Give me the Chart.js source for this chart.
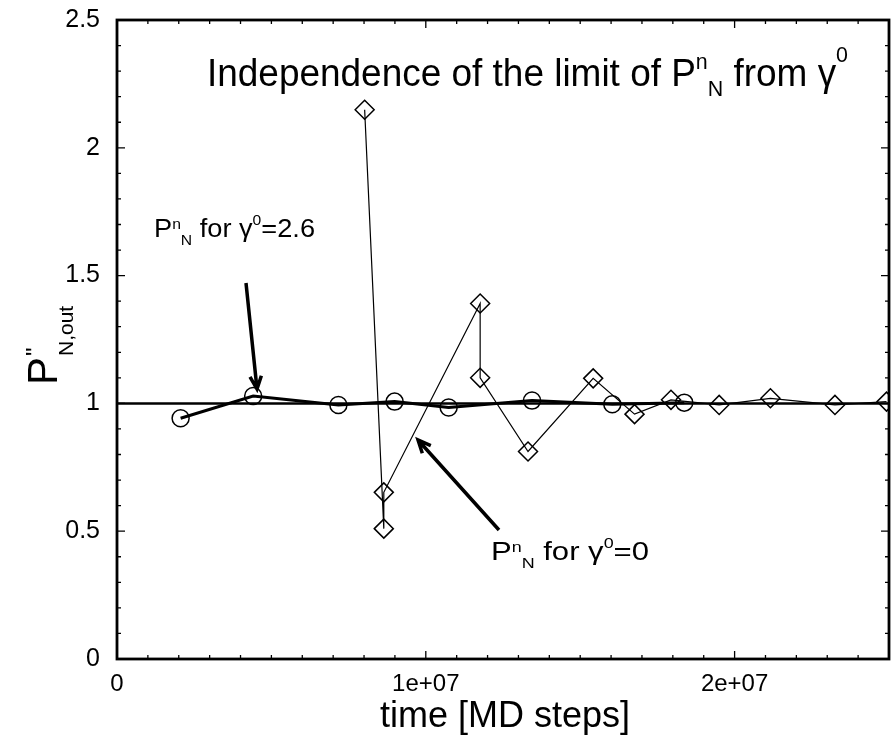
<!DOCTYPE html>
<html>
<head>
<meta charset="utf-8">
<script src="https://cdn.jsdelivr.net/npm/chart.js@4.4.1/dist/chart.umd.min.js"></script>
<style>
  html, body { margin: 0; padding: 0; background: #fff; overflow: hidden; }
  canvas { display: block; }
</style>
</head>
<body>
<canvas id="myChart" width="900" height="737"></canvas>
<script>
// run started from gamma0 = 2.6 (circles, thick line)
var circleTime = [2.06e6, 4.41e6, 7.17e6, 8.99e6, 10.74e6, 13.44e6, 16.04e6, 18.37e6];
var circleP = [0.942, 1.029, 0.994, 1.007, 0.984, 1.011, 0.997, 1.003];

// run started from gamma0 = 0 (diamonds, thin line)
var diamondTime = [8.02e6, 8.64e6, 8.64e6, 11.76e6, 11.76e6, 13.31e6, 15.42e6, 16.76e6, 17.94e6, 19.5e6, 21.16e6, 23.25e6, 24.92e6];
var diamondP = [2.149, 0.51, 0.652, 1.391, 1.10, 0.812, 1.098, 0.958, 1.014, 0.994, 1.02, 0.994, 1.007];

// target level
var refTime = [0, 2.5e7];
var refP = [1, 1];

var xTickValues = [0, 1e7, 2e7];
var xTickLabels = ["0", "1e+07", "2e+07"];
var yTickValues = [0, 0.5, 1, 1.5, 2, 2.5];
var yTickLabels = ["0", "0.5", "1", "1.5", "2", "2.5"];

var FAM = "'Liberation Sans', Arial, sans-serif";

function toPoints(xs, ys) {
  return xs.map(function (x, i) { return { x: x, y: ys[i] }; });
}

// text with super/subscripts: parts = [text, size, dy]
function drawRich(ctx, x, y, parts, width) {
  var total = 0;
  parts.forEach(function (p) {
    ctx.font = p[1] + "px " + FAM;
    p.w = ctx.measureText(p[0]).width;
    total += p.w;
  });
  var k = width ? width / total : 1;
  ctx.save();
  ctx.translate(x, y);
  ctx.scale(k, 1);
  ctx.fillStyle = "#000";
  ctx.textBaseline = "alphabetic";
  ctx.textAlign = "left";
  var cx = 0;
  parts.forEach(function (p) {
    ctx.font = p[1] + "px " + FAM;
    ctx.fillText(p[0], cx, p[2]);
    cx += p.w;
  });
  ctx.restore();
}

function drawArrow(ctx, x1, y1, x2, y2) {
  var a = Math.atan2(y2 - y1, x2 - x1);
  var len = 14, spread = 0.42;
  ctx.save();
  ctx.strokeStyle = "#000";
  ctx.lineWidth = 3.5;
  ctx.beginPath();
  ctx.moveTo(x1, y1);
  ctx.lineTo(x2, y2);
  ctx.moveTo(x2 - len * Math.cos(a - spread), y2 - len * Math.sin(a - spread));
  ctx.lineTo(x2, y2);
  ctx.lineTo(x2 - len * Math.cos(a + spread), y2 - len * Math.sin(a + spread));
  ctx.stroke();
  ctx.restore();
}

var framePlugin = {
  id: "frame",
  afterDatasetsDraw: function (chart) {
    var ctx = chart.ctx, a = chart.chartArea;
    var xs = chart.scales.x, ys = chart.scales.y;
    ctx.save();
    ctx.strokeStyle = "#000";
    ctx.lineWidth = 1.3;
    ctx.beginPath();
    for (var t = 0; t <= 25; t++) {
      var px = xs.getPixelForValue(t * 1e6);
      var l = t % 10 === 0 ? 8 : 4;
      ctx.moveTo(px, a.bottom); ctx.lineTo(px, a.bottom - l);
      ctx.moveTo(px, a.top); ctx.lineTo(px, a.top + l);
    }
    for (var i = 0; i <= 25; i++) {
      var py = ys.getPixelForValue(i / 10);
      var l2 = i % 5 === 0 ? 8 : 4;
      ctx.moveTo(a.left, py); ctx.lineTo(a.left + l2, py);
      ctx.moveTo(a.right, py); ctx.lineTo(a.right - l2, py);
    }
    ctx.stroke();
    ctx.lineWidth = 2.8;
    ctx.strokeRect(a.left, a.top, a.right - a.left, a.bottom - a.top);
    ctx.restore();
  },
  afterDraw: function (chart) {
    var ctx = chart.ctx;
    // title
    drawRich(ctx, 207, 86, [
      ["Independence of the limit of P", 38, 0],
      ["n", 22, -17],
      ["N", 22, 10],
      [" from \u03b3", 38, 0],
      ["0", 22, -24]
    ], 641);
    // annotations
    drawRich(ctx, 154, 237, [
      ["P", 26, 0], ["n", 15, -8], ["N", 15, 8],
      [" for \u03b3", 26, 0], ["0", 15, -12], ["=2.6", 26, 0]
    ], 161);
    drawRich(ctx, 491, 560, [
      ["P", 26, 0], ["n", 15, -8], ["N", 15, 8],
      [" for \u03b3", 26, 0], ["0", 15, -12], ["=0", 26, 0]
    ], 158);
    drawArrow(ctx, 246, 283, 257, 389);
    drawArrow(ctx, 499, 530, 418, 440);
    // x axis title
    ctx.save();
    ctx.fillStyle = "#000";
    ctx.font = "36px " + FAM;
    ctx.textAlign = "center";
    ctx.textBaseline = "alphabetic";
    ctx.fillText("time [MD steps]", 505, 727);
    ctx.restore();
    // y axis title, rotated
    ctx.save();
    ctx.translate(57, 385);
    ctx.rotate(-Math.PI / 2);
    ctx.fillStyle = "#000";
    ctx.font = "42px " + FAM;
    var pw = ctx.measureText("P").width;
    ctx.fillText("P", 0, 0);
    ctx.font = "24px " + FAM;
    ctx.fillText("\"", pw + 1, -14);
    ctx.font = "21px " + FAM;
    ctx.fillText("N,out", pw + 1, 16);
    ctx.restore();
  }
};

new Chart("myChart", {
  type: "line",
  data: {
    datasets: [
      {
        data: toPoints(refTime, refP),
        borderColor: "#000",
        borderWidth: 2.5,
        pointRadius: 0
      },
      {
        data: toPoints(circleTime, circleP),
        borderColor: "#000",
        borderWidth: 3,
        pointStyle: "circle",
        pointRadius: 8.5,
        pointBorderWidth: 1.5,
        pointBorderColor: "#000",
        pointBackgroundColor: "rgba(0,0,0,0)"
      },
      {
        data: toPoints(diamondTime, diamondP),
        borderColor: "#000",
        borderWidth: 1.2,
        pointStyle: "rectRot",
        pointRadius: 9.5,
        pointBorderWidth: 1.5,
        pointBorderColor: "#000",
        pointBackgroundColor: "rgba(0,0,0,0)"
      }
    ]
  },
  options: {
    responsive: false,
    animation: false,
    layout: { padding: { top: 20, right: 5.5, left: 0, bottom: 0 } },
    plugins: { legend: { display: false }, tooltip: { enabled: false } },
    scales: {
      x: {
        type: "linear",
        min: 0,
        max: 2.5e7,
        afterBuildTicks: function (s) {
          s.ticks = xTickValues.map(function (v) { return { value: v }; });
        },
        afterFit: function (s) { s.height = 78; s.paddingLeft = 0; s.paddingRight = 0; },
        grid: { display: false },
        border: { display: false },
        ticks: {
          autoSkip: false,
          maxRotation: 0,
          padding: 3,
          color: "#000",
          font: { family: FAM, size: 24 },
          callback: function (v, i) { return xTickLabels[i]; }
        }
      },
      y: {
        min: 0,
        max: 2.5,
        afterBuildTicks: function (s) {
          s.ticks = yTickValues.map(function (v) { return { value: v }; });
        },
        afterFit: function (s) { s.width = 117; s.paddingTop = 0; s.paddingBottom = 0; },
        grid: { display: false },
        border: { display: false },
        ticks: {
          padding: 9,
          color: "#000",
          font: { family: FAM, size: 25 },
          callback: function (v, i) { return yTickLabels[i]; }
        }
      }
    }
  },
  plugins: [framePlugin]
});
</script>
</body>
</html>
